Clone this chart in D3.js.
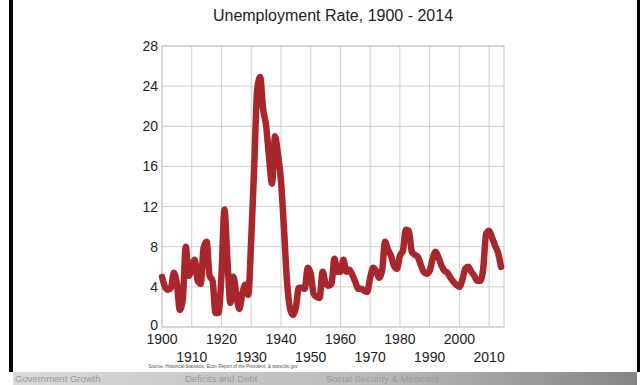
<!DOCTYPE html>
<html>
<head>
<meta charset="utf-8">
<script src="https://cdn.jsdelivr.net/npm/d3@7"></script>
<style>
  body { margin: 0; background: #fff; }
  svg { display: block; }
</style>
</head>
<body>
<script>
// unemployment rate, annual, 1900..2014
const firstYear = 1900;
const rates = [
  5.0, 4.0, 3.7, 3.9, 5.4, 4.3, 1.7, 2.8, 8.0, 5.1,
  5.9, 6.7, 4.6, 4.3, 7.9, 8.5, 5.1, 4.6, 1.4, 1.4,
  5.2, 11.7, 6.7, 2.4, 5.0, 3.2, 1.8, 3.3, 4.2, 3.2,
  8.7, 15.9, 23.6, 24.9, 21.7, 20.1, 16.9, 14.3, 19.0, 17.2,
  14.6, 9.9, 4.7, 1.9, 1.2, 1.9, 3.9, 3.9, 3.8, 5.9,
  5.3, 3.3, 3.0, 2.9, 5.5, 4.4, 4.1, 4.3, 6.8, 5.5,
  5.5, 6.7, 5.5, 5.7, 5.2, 4.5, 3.8, 3.8, 3.6, 3.5,
  4.9, 5.9, 5.6, 4.9, 5.6, 8.5, 7.7, 7.1, 6.1, 5.8,
  7.1, 7.6, 9.7, 9.6, 7.5, 7.2, 7.0, 6.2, 5.5, 5.3,
  5.6, 6.8, 7.5, 6.9, 6.1, 5.6, 5.4, 4.9, 4.5, 4.2,
  4.0, 4.7, 5.8, 6.0, 5.5, 5.1, 4.6, 4.6, 5.8, 9.3,
  9.6, 8.9, 8.1, 7.4, 6.0
];
const yTicks = [0, 4, 8, 12, 16, 20, 24, 28];
const xTicks = [1900, 1910, 1920, 1930, 1940, 1950, 1960, 1970, 1980, 1990, 2000, 2010];
const navItems = ["Government Growth", "Deficits and Debt", "Social Security & Medicare"];
const navX = [15, 185, 326];

const W = 644, H = 385;
const svg = d3.select("body").append("svg")
  .attr("width", W)
  .attr("height", H);

const defs = svg.append("defs");
const grad = defs.append("linearGradient").attr("id", "strip");
grad.append("stop").attr("offset", "0%").attr("stop-color", "#dadada");
grad.append("stop").attr("offset", "60%").attr("stop-color", "#b8b8b8");
grad.append("stop").attr("offset", "100%").attr("stop-color", "#858585");

// black side bars
svg.append("rect").attr("x", 9).attr("y", 0).attr("width", 4).attr("height", 372).attr("fill", "#000");
svg.append("rect").attr("x", 637).attr("y", 0).attr("width", 3).attr("height", 372).attr("fill", "#000");

// bottom nav strip
svg.append("rect").attr("x", 13).attr("y", 372).attr("width", 624).attr("height", 13).attr("fill", "url(#strip)");
svg.selectAll(".nav").data(navItems).enter().append("text")
  .attr("class", "nav")
  .attr("x", (d, i) => navX[i])
  .attr("y", 382)
  .attr("font-family", "Liberation Sans, Arial, sans-serif")
  .attr("font-size", 9.5)
  .attr("fill", "#9a9a9a")
  .text(d => d);

const x = d3.scaleLinear().domain([1900, 2015]).range([162, 504]);
const y = d3.scaleLinear().domain([0, 28]).range([327, 46]);

// title
svg.append("text")
  .attr("x", 333)
  .attr("y", 21)
  .attr("text-anchor", "middle")
  .attr("font-family", "Liberation Sans, Arial, sans-serif")
  .attr("font-size", 16)
  .attr("fill", "#222")
  .text("Unemployment Rate, 1900 - 2014");

// grid
const grid = svg.append("g");
grid.selectAll(".vg").data(xTicks).enter().append("line")
  .attr("x1", d => x(d)).attr("x2", d => x(d))
  .attr("y1", y(28)).attr("y2", y(0))
  .attr("stroke", "#cfcfcf").attr("stroke-width", 1);
grid.selectAll(".hg").data(yTicks).enter().append("line")
  .attr("x1", x(1900)).attr("x2", x(2015))
  .attr("y1", d => y(d)).attr("y2", d => y(d))
  .attr("stroke", "#cfcfcf").attr("stroke-width", 1);
grid.append("rect")
  .attr("x", x(1900)).attr("y", y(28))
  .attr("width", x(2015) - x(1900)).attr("height", y(0) - y(28))
  .attr("fill", "none").attr("stroke", "#c4c4c4");

// y labels (the 0 sits just above the 1900 label)
svg.selectAll(".yl").data(yTicks).enter().append("text")
  .attr("x", 158)
  .attr("y", d => d === 0 ? y(d) + 3 : y(d) + 5)
  .attr("text-anchor", "end")
  .attr("font-family", "Liberation Sans, Arial, sans-serif")
  .attr("font-size", 14)
  .attr("fill", "#222")
  .text(d => d);

// x labels, staggered in two rows
svg.selectAll(".xl").data(xTicks).enter().append("text")
  .attr("x", d => x(d))
  .attr("y", (d, i) => i % 2 === 0 ? 344 : 362)
  .attr("text-anchor", "middle")
  .attr("font-family", "Liberation Sans, Arial, sans-serif")
  .attr("font-size", 14)
  .attr("fill", "#222")
  .text(d => d);

// source note
svg.append("text")
  .attr("x", 223)
  .attr("y", 368)
  .attr("text-anchor", "middle")
  .attr("font-family", "Liberation Sans, Arial, sans-serif")
  .attr("font-size", 4.6)
  .attr("fill", "#555")
  .text("Source:  Historical Statistics, Econ Report of the President, & www.bls.gov");

// the line
const line = d3.line()
  .x((d, i) => x(firstYear + i))
  .y(d => y(d))
  .curve(d3.curveMonotoneX);

svg.append("path")
  .datum(rates)
  .attr("d", line)
  .attr("fill", "none")
  .attr("stroke", "#a8272c")
  .attr("stroke-width", 6.5)
  .attr("stroke-linejoin", "round")
  .attr("stroke-linecap", "round");
</script>
</body>
</html>
